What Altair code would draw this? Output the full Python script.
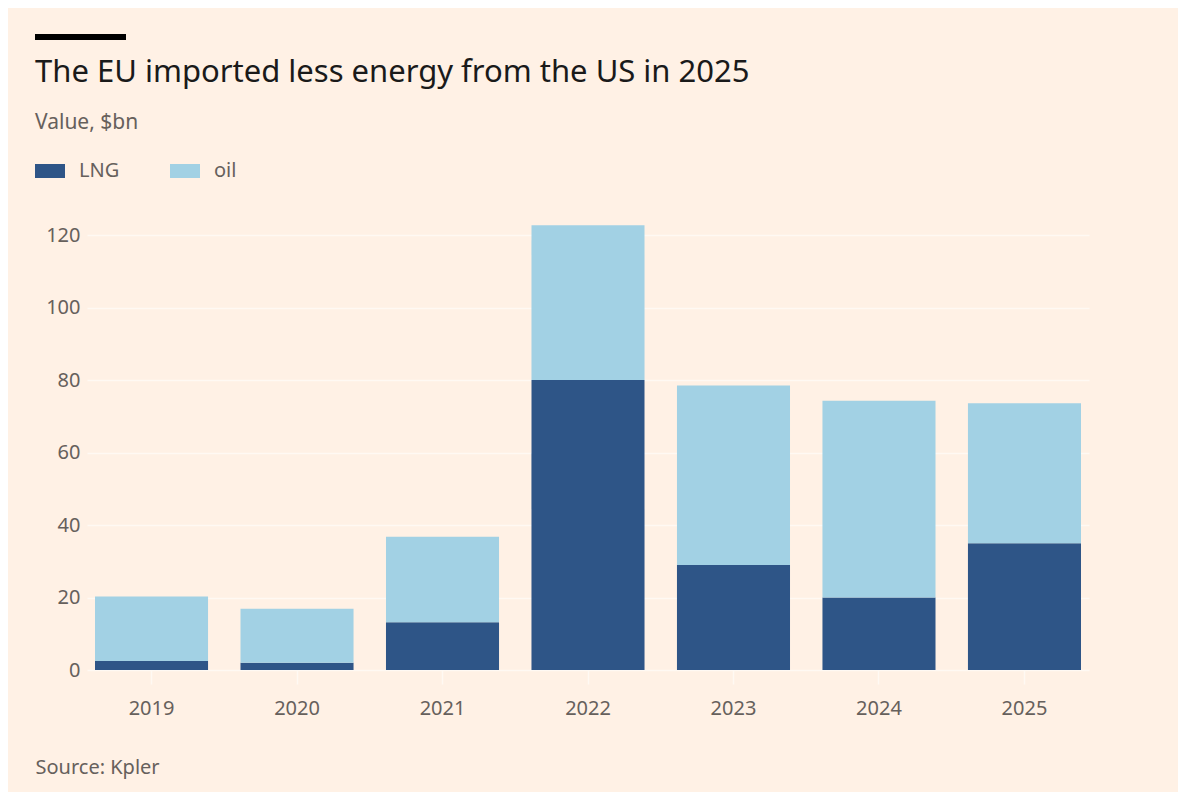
import altair as alt
import pandas as pd

years = ["2019", "2020", "2021", "2022", "2023", "2024", "2025"]
lng = [2.5, 2.0, 13.2, 80.0, 29.0, 20.0, 35.0]
oil = [17.8, 14.9, 23.6, 42.7, 49.5, 54.3, 38.6]
series = ["LNG", "oil"]
colors = ["#2E5587", "#A2D1E4"]
y_ticks = [0, 20, 40, 60, 80, 100, 120]

rows = []
for i, yr in enumerate(years):
    rows.append({"year": yr, "type": "LNG", "value": lng[i], "ord": 0})
    rows.append({"year": yr, "type": "oil", "value": oil[i], "ord": 1})
df = pd.DataFrame(rows)

FONT = "Noto Sans"
GREY = "#66605C"
GRID = "#FFF9F3"

bars = alt.Chart(df).mark_bar().encode(
    x=alt.X("year:N", sort=years,
            scale=alt.Scale(paddingInner=0.223, paddingOuter=0.055),
            axis=alt.Axis(title="Source: Kpler", titleX=-52, titleY=103,
                          titleAlign="left", titleAnchor="start",
                          titleBaseline="alphabetic",
                          titleFontSize=20, titleFontWeight="normal",
                          titleColor=GREY, titleFont=FONT,
                          labelAngle=0, labelFontSize=20, labelColor=GREY,
                          labelFont=FONT, labelPadding=14,
                          domain=False, ticks=True, tickColor=GRID,
                          tickSize=14, tickWidth=1.5, grid=False)),
    y=alt.Y("value:Q", stack="zero",
            scale=alt.Scale(domain=[0, 125], nice=False),
            axis=alt.Axis(title=None, values=y_ticks, labelFontSize=20,
                          labelColor=GREY, labelFont=FONT, labelPadding=7,
                          ticks=False, domain=False, grid=True,
                          gridColor=GRID, gridWidth=1.5)),
    color=alt.Color("type:N", sort=series,
                    scale=alt.Scale(domain=series, range=colors),
                    legend=alt.Legend(title=None, orient="none",
                                      legendX=-52, legendY=-61,
                                      direction="horizontal",
                                      symbolType="M-1,-0.467H1V0.467H-1Z",
                                      symbolSize=900, symbolStrokeWidth=0,
                                      symbolOpacity=1,
                                      labelFontSize=20, labelColor=GREY,
                                      labelFont=FONT, labelOffset=14,
                                      columnPadding=50)),
    order=alt.Order("ord:Q", sort="ascending"),
)

topbar = alt.Chart(pd.DataFrame({"a": [0]})).mark_rule(
    color="#000000", strokeWidth=6, strokeCap="butt", clip=False
).encode(x=alt.value(-52), x2=alt.value(39), y=alt.value(-180))

chart = alt.layer(bars, topbar).properties(
    width=1002,
    height=453,
    background="#FFF1E5",
    autosize=alt.AutoSizeParams(type="none"),
    padding={"left": 79, "top": 209, "right": 89, "bottom": 122},
    title=alt.Title(
        "The EU imported less energy from the US in 2025",
        subtitle="Value, $bn",
        anchor="start", frame="group", dx=-52, offset=-100,
        font=FONT, fontSize=31, fontWeight="normal", color="#1A1A1A",
        subtitleFont=FONT, subtitleFontSize=21, subtitleColor=GREY,
        subtitlePadding=23,
    ),
).configure_view(stroke=None)

chart.save("out.html", embed_options={"renderer": "svg", "actions": False})
